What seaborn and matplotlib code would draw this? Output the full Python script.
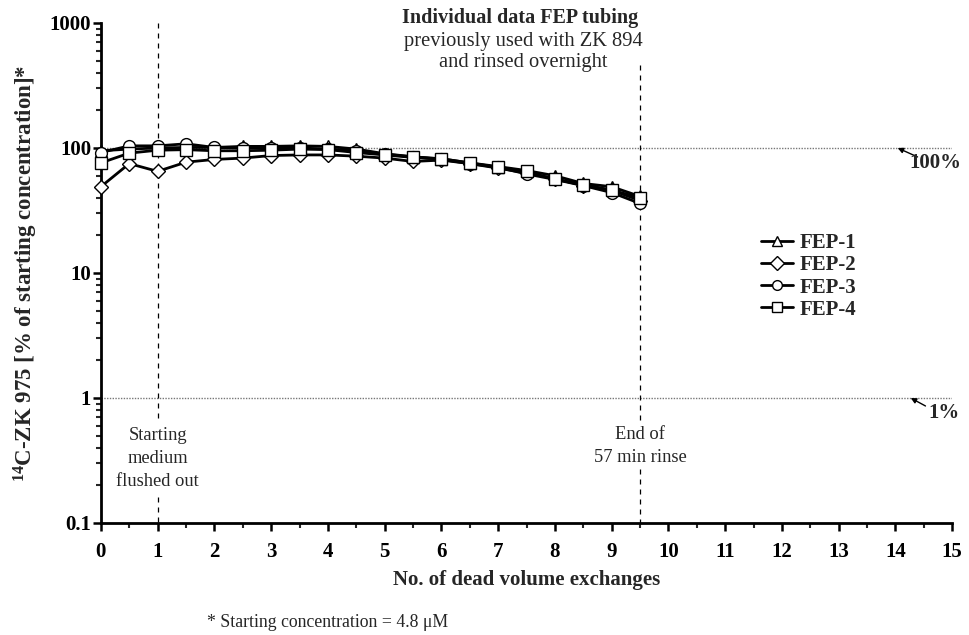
import numpy as np
import pandas as pd
import matplotlib
matplotlib.use("Agg")
import matplotlib.pyplot as plt
import seaborn as sns
from matplotlib.ticker import FixedLocator, NullFormatter

# ---- data ----
exchanges = [0, 0.5, 1, 1.5, 2, 2.5, 3, 3.5, 4, 4.5, 5, 5.5, 6, 6.5, 7, 7.5, 8, 8.5, 9, 9.5]
fep1 = [95, 98, 100, 101, 101, 103, 103, 104, 103, 98, 90, 85, 82, 76, 71, 66, 60, 52, 49, 41]
fep2 = [49, 75, 65, 77, 81, 83, 87, 88, 88, 86, 83, 78, 80, 75, 69, 63, 57, 50, 46, 38]
fep3 = [92, 104, 104, 108, 101, 100, 100, 100, 98, 95, 89, 85, 81, 75, 70, 62, 56, 50, 44, 36]
fep4 = [76, 91, 96, 97, 95, 95, 96, 98, 97, 92, 88, 84, 82, 76, 70, 65, 56, 51, 46, 40]
series_names = ["FEP-1", "FEP-2", "FEP-3", "FEP-4"]
series_markers = ["^", "D", "o", "s"]
y_ticks = [0.1, 1, 10, 100, 1000]
y_ticklabels = ["0.1", "1", "10", "100", "1000"]
x_ticks = list(range(0, 16))

sns.set_theme(style="white")
plt.rcParams["font.family"] = ["Liberation Serif", "DejaVu Serif"]
plt.rcParams["mathtext.fontset"] = "custom"
plt.rcParams["mathtext.rm"] = "Liberation Serif"
plt.rcParams["mathtext.bf"] = "Liberation Serif:bold"

fig = plt.figure(figsize=(9.7, 6.35), dpi=100)
ax = fig.add_axes([0.104, 0.1764, 0.8776, 0.7874])

df = pd.DataFrame({"x": exchanges, "FEP-1": fep1, "FEP-2": fep2, "FEP-3": fep3, "FEP-4": fep4})
long = df.melt(id_vars="x", var_name="series", value_name="y")

for name, mk in zip(series_names, series_markers):
    sub = long[long["series"] == name]
    ms = 7 if mk == "D" else 8.5
    sns.lineplot(data=sub, x="x", y="y", ax=ax, color="black", lw=2,
                 marker=mk, markersize=ms, markerfacecolor="white",
                 markeredgecolor="black", markeredgewidth=1.0, label=name,
                 clip_on=False, zorder=3)

ax.set_yscale("log")
ax.set_ylim(0.1, 1000)
ax.set_xlim(0, 15)
ax.yaxis.set_major_locator(FixedLocator(y_ticks))
ax.set_yticklabels(y_ticklabels)
ax.yaxis.set_minor_locator(FixedLocator(
    [m * 10.0 ** e for e in range(-1, 3) for m in range(2, 10)]))
ax.yaxis.set_minor_formatter(NullFormatter())
ax.xaxis.set_major_locator(FixedLocator(x_ticks))
ax.xaxis.set_minor_locator(FixedLocator([i + 0.5 for i in range(15)]))

for s in ["top", "right"]:
    ax.spines[s].set_visible(False)
for s in ["left", "bottom"]:
    ax.spines[s].set_linewidth(2)
    ax.spines[s].set_color("black")

ax.tick_params(axis="both", which="major", direction="out", length=5.5, width=1.8,
               labelsize=15, colors="black", left=True, bottom=True)
ax.tick_params(axis="both", which="minor", direction="out", length=3.5, width=1.5,
               left=True, bottom=True)
ax.tick_params(axis="x", which="major", pad=8)
ax.tick_params(axis="y", which="major", pad=1.5)
for lab in ax.get_xticklabels() + ax.get_yticklabels():
    lab.set_fontweight("bold")

ax.set_xlabel("No. of dead volume exchanges", fontsize=15, fontweight="bold", labelpad=6)
ax.set_ylabel(r"$\mathbf{^{14}}$C-ZK 975 [% of starting concentration]*",
              fontsize=16.5, fontweight="bold", labelpad=7)

# reference lines
ax.axhline(100, color="#777777", lw=1, ls=(0, (1, 1)), zorder=1)
ax.axhline(1, color="#777777", lw=1, ls=(0, (1, 1)), zorder=1)
ax.plot([1, 1], [1000, 0.67], color="black", lw=0.9, ls=(0, (4, 4)), zorder=1)
ax.plot([1, 1], [0.16, 0.1], color="black", lw=0.9, ls=(0, (4, 4)), zorder=1)
ax.plot([9.5, 9.5], [460, 0.67], color="black", lw=0.9, ls=(0, (4, 4)), zorder=1)
ax.plot([9.5, 9.5], [0.27, 0.1], color="black", lw=0.9, ls=(0, (4, 4)), zorder=1)

# annotations
ax.text(1, 0.33, "Starting\nmedium\nflushed out", ha="center", va="center",
        fontsize=13.3, linespacing=1.45)
ax.text(9.5, 0.413, "End of\n57 min rinse", ha="center", va="center",
        fontsize=13.3, linespacing=1.45)
ax.text(7.39, 1096, "Individual data FEP tubing", ha="center", va="center",
        fontsize=14.5, fontweight="bold", clip_on=False)
ax.text(7.45, 705, "previously used with ZK 894", ha="center", va="center",
        fontsize=14.8)
ax.text(7.45, 479, "and rinsed overnight", ha="center", va="center",
        fontsize=14.8)

ax.annotate("", xy=(14.04, 100), xytext=(14.39, 84.8), annotation_clip=False,
            arrowprops=dict(arrowstyle="-|>", color="black", lw=1, shrinkA=0,
                            shrinkB=0, mutation_scale=8))
ax.text(14.71, 75.9, "100%", ha="center", va="center", fontsize=15,
        fontweight="bold", clip_on=False)
ax.annotate("", xy=(14.27, 1), xytext=(14.53, 0.863), annotation_clip=False,
            arrowprops=dict(arrowstyle="-|>", color="black", lw=1, shrinkA=0,
                            shrinkB=0, mutation_scale=8))
ax.text(14.85, 0.76, "1%", ha="center", va="center", fontsize=15,
        fontweight="bold", clip_on=False)

leg = ax.legend(loc="upper left", bbox_to_anchor=(0.763, 0.60), frameon=False,
                prop={"family": "Liberation Serif", "weight": "bold", "size": 15},
                handlelength=1.55, handletextpad=0.3, labelspacing=0.1, borderpad=0)
for h in leg.get_lines():
    h.set_markersize(7)

fig.text(0.213, 0.02, "* Starting concentration = 4.8 \u03bcM", fontsize=12.8,
         ha="left", va="center")

fig.savefig("out.png", dpi=100)
